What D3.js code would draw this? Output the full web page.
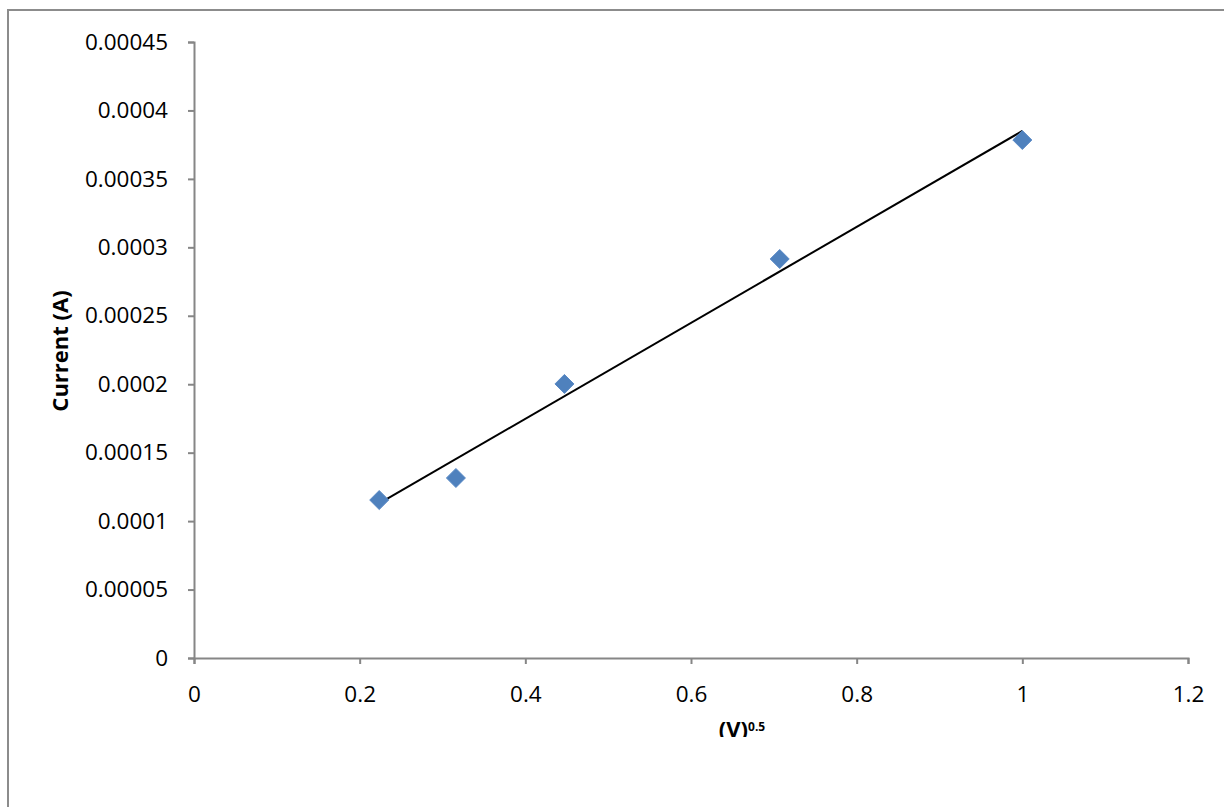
<!DOCTYPE html>
<html>
<head>
<meta charset="utf-8">
<script src="https://cdn.jsdelivr.net/npm/d3@7"></script>
<style>
  body { margin: 0; background: #fff; }
  svg { display: block; font-family: "Open Sans", "Noto Sans", sans-serif; }
</style>
</head>
<body>
<div id="chart-area"></div>
<script>
// Data: sqrt(voltage) vs current
let sqrtVolts = [0.2236, 0.3162, 0.4472, 0.7071, 1.0];
let currents  = [0.0001154, 0.0001315, 0.0002002, 0.0002915, 0.0003784];

let xTicks = [0, 0.2, 0.4, 0.6, 0.8, 1, 1.2];
let yTicks = [0, 0.00005, 0.0001, 0.00015, 0.0002, 0.00025, 0.0003, 0.00035, 0.0004, 0.00045];

let data = sqrtVolts.map((v, i) => ({x: v, y: currents[i]}));

let W = 1224, H = 807;
let margin = {top: 42, right: 36, bottom: 149, left: 194};
let width = W - margin.left - margin.right,
    height = H - margin.top - margin.bottom;

let svg = d3.select("#chart-area").append("svg")
    .attr("width", W)
    .attr("height", H);

// chart area border (runs off the right and bottom edges)
svg.append("rect")
    .attr("x", 8).attr("y", 10)
    .attr("width", W + 20).attr("height", H + 20)
    .attr("fill", "none")
    .attr("stroke", "#8c8c8c")
    .attr("stroke-width", 2);

let g = svg.append("g")
    .attr("transform", "translate(" + margin.left + "," + margin.top + ")");

// Scales
let x = d3.scaleLinear().domain([0, 1.2]).range([0, width]);
let y = d3.scaleLinear().domain([0, 0.00045]).range([height, 0]);

// Axes
let xAxis = g.append("g")
    .attr("class", "x-axis")
    .attr("transform", `translate(0,${height})`)
    .call(d3.axisBottom(x).tickValues(xTicks).tickSize(6).tickPadding(22)
        .tickFormat(d => String(+d.toFixed(2))));

let yAxis = g.append("g")
    .attr("class", "y-axis")
    .call(d3.axisLeft(y).tickValues(yTicks).tickSize(6).tickPadding(20)
        .tickFormat(d => d === 0 ? "0" : String(+d.toFixed(5))));

[xAxis, yAxis].forEach(a => {
    a.attr("font-family", null).attr("font-size", null);
    a.select(".domain").attr("stroke", "#868686").attr("stroke-width", 2);
    a.selectAll(".tick line").attr("stroke", "#868686").attr("stroke-width", 2);
    a.selectAll(".tick text")
        .attr("fill", "#000")
        .style("font-family", "'Open Sans', 'Noto Sans', sans-serif")
        .style("font-size", "22.5px");
});

// Linear trendline (least squares)
let mx = d3.mean(data, d => d.x), my = d3.mean(data, d => d.y);
let slope = d3.sum(data, d => (d.x - mx) * (d.y - my)) / d3.sum(data, d => (d.x - mx) ** 2);
let icpt = my - slope * mx;
let xs = d3.extent(data, d => d.x);

g.append("line")
    .attr("x1", x(xs[0])).attr("y1", y(icpt + slope * xs[0]))
    .attr("x2", x(xs[1])).attr("y2", y(icpt + slope * xs[1]))
    .attr("stroke", "#000")
    .attr("stroke-width", 2);

// Diamond markers
g.selectAll(".pt")
    .data(data)
    .enter()
    .append("path")
    .attr("class", "pt")
    .attr("d", "M0,-9.5L9.5,0L0,9.5L-9.5,0Z")
    .attr("transform", d => `translate(${x(d.x)},${y(d.y)})`)
    .attr("fill", "#4f81bd")
    .attr("stroke", "#5a8ac6")
    .attr("stroke-width", 1);

// Axis titles
svg.append("clipPath").attr("id", "xt-clip")
    .append("rect").attr("x", 0).attr("y", 0).attr("width", W).attr("height", 737);

let xt = svg.append("text")
    .attr("clip-path", "url(#xt-clip)")
    .attr("x", 742).attr("y", 737)
    .attr("text-anchor", "middle")
    .style("font-weight", "bold")
    .style("font-size", "22px");
xt.append("tspan").text("(V)");
xt.append("tspan").attr("dy", -6).style("font-size", "12px").text("0.5");

svg.append("text")
    .attr("transform", "translate(68,351) rotate(-90)")
    .attr("text-anchor", "middle")
    .style("font-weight", "bold")
    .style("font-size", "22px")
    .text("Current (A)");
</script>
</body>
</html>
